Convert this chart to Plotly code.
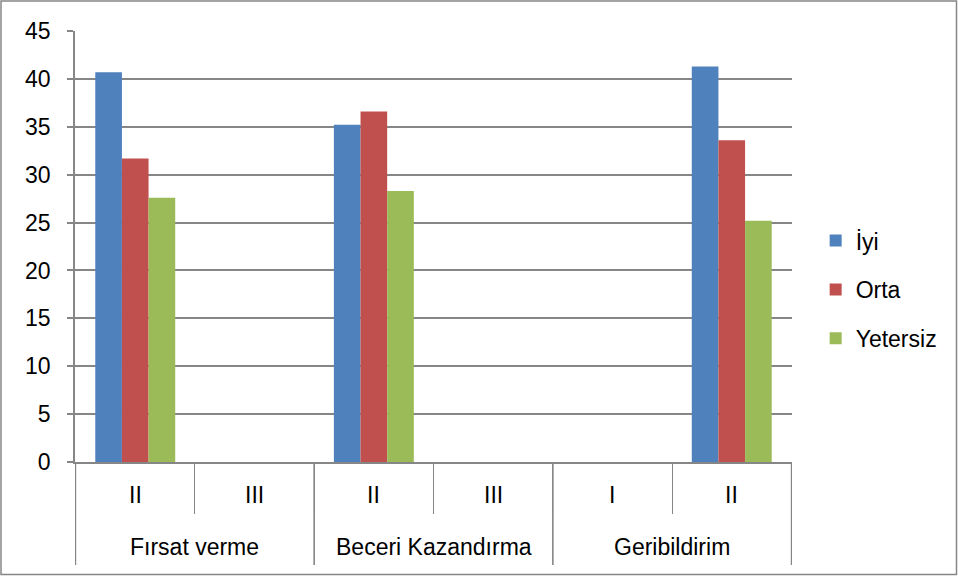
import plotly.graph_objects as go

groups = ["Fırsat verme", "Fırsat verme", "Beceri Kazandırma", "Beceri Kazandırma", "Geribildirim", "Geribildirim"]
levels = ["II", "III", "II", "III", "I", "II"]
iyi = [40.7, None, 35.2, None, None, 41.3]
orta = [31.7, None, 36.6, None, None, 33.6]
yetersiz = [27.6, None, 28.3, None, None, 25.2]
series_names = ["İyi", "Orta", "Yetersiz"]
colors = ["#4F81BD", "#C0504D", "#9BBB59"]
y_ticks = [0, 5, 10, 15, 20, 25, 30, 35, 40, 45]

W, H = 958, 576
L, R, T, B = 75, 166, 31, 114
pw, ph = W - L - R, H - T - B
GRID = "#868686"
FONT = "Liberation Sans, Arial"

keys = [g + " / " + lv for g, lv in zip(groups, levels)]

fig = go.Figure()
for i, (name, vals) in enumerate(zip(series_names, [iyi, orta, yetersiz])):
    fig.add_trace(go.Bar(
        x=keys, y=vals, name=name,
        marker=dict(color=colors[i], line=dict(width=0)),
        legendgroup=name,
    ))

annotations = []
shapes = []
# sub-category labels
for i, lv in enumerate(levels):
    annotations.append(dict(x=i, y=-(495 - 462) / ph, xref="x", yref="paper",
                            text=lv, showarrow=False, xanchor="center", yanchor="middle",
                            font=dict(size=23, family=FONT, color="black")))
# group labels and dividers
unique_groups = list(dict.fromkeys(groups))
for g in unique_groups:
    idx = [i for i, gg in enumerate(groups) if gg == g]
    annotations.append(dict(x=(idx[0] + idx[-1]) / 2, y=-(547 - 462) / ph, xref="x", yref="paper",
                            text=g, showarrow=False, xanchor="center", yanchor="middle",
                            font=dict(size=23, family=FONT, color="black")))
    for b in (idx[0] - 0.5, idx[-1] + 0.5):
        shapes.append(dict(type="line", xref="x", yref="paper", x0=b, x1=b,
                           y0=0, y1=-(565 - 462) / ph,
                           line=dict(color=GRID, width=1.2)))
# chart border
shapes.append(dict(type="rect", xref="paper", yref="paper",
                   x0=(1 - L) / pw, x1=(W - 1.5 - L) / pw,
                   y0=-(H - 1.5 - T - ph) / ph, y1=1 + (T - 1) / ph,
                   line=dict(color=GRID, width=1.5)))

fig.update_layout(
    width=W, height=H,
    margin=dict(l=L, r=R, t=T, b=B, autoexpand=False),
    paper_bgcolor="white", plot_bgcolor="white",
    barmode="group", bargap=0.33, bargroupgap=0,
    font=dict(family=FONT, size=23, color="black"),
    showlegend=True,
    legend=dict(x=1.033, y=0.40, xanchor="left", yanchor="middle",
                font=dict(size=23), traceorder="grouped", tracegroupgap=16,
                itemwidth=30, bgcolor="rgba(0,0,0,0)"),
    yaxis=dict(range=[0, 45], tickvals=y_ticks, showgrid=True,
               gridcolor=GRID, gridwidth=1.5,
               showline=True, linecolor=GRID, linewidth=1.5,
               ticks="outside", ticklen=6, tickcolor=GRID, tickwidth=1.5,
               ticklabelstandoff=12, automargin=False,
               zeroline=False, tickfont=dict(size=23)),
    xaxis=dict(type="category", showline=True, linecolor=GRID,
               linewidth=1.5, ticks="outside", tickson="boundaries",
               ticklen=50, tickcolor=GRID, tickwidth=1.2,
               showticklabels=False, showgrid=False, automargin=False),
    annotations=annotations,
    shapes=shapes,
)
fig.write_html("out.html", config={"displayModeBar": False},
               post_script="document.body.style.margin='0';")
